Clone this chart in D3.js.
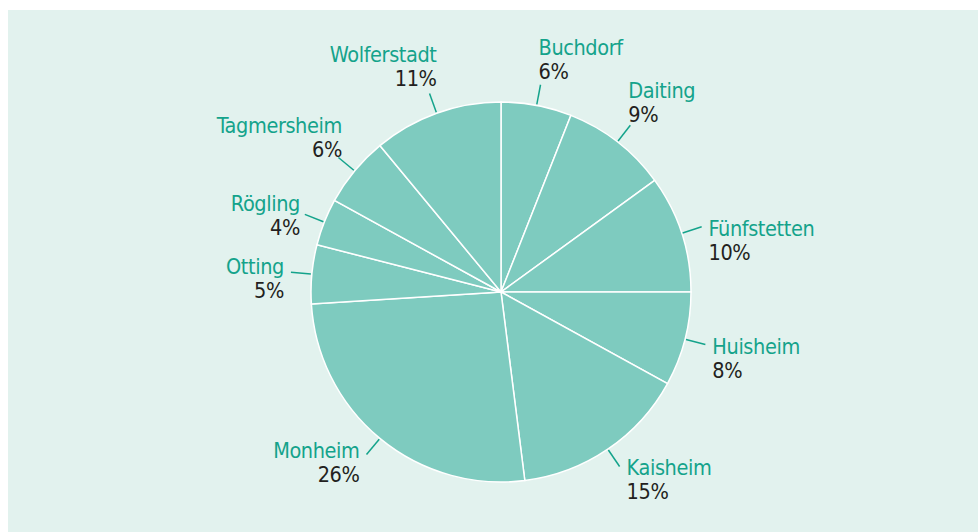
<!DOCTYPE html>
<html lang="de">
<head>
    <meta charset="UTF-8">
    <title>Anteile</title>
    <style>
        body,
        html {
            margin: 0;
            padding: 0;
            background: #fff;
        }
        text {
            font-family: "Liberation Sans Narrow", "DejaVu Sans Condensed", sans-serif;
            font-size: 21.5px;
            letter-spacing: -0.4px;
        }
    </style>
    <script src="https://d3js.org/d3.v7.min.js"></script>
</head>
<body>
<div id="chart"></div>
<script>
    // Gemeinden im Uhrzeigersinn, beginnend oben
    const gemeinden = ['Buchdorf', 'Daiting', 'Fünfstetten', 'Huisheim', 'Kaisheim',
        'Monheim', 'Otting', 'Rögling', 'Tagmersheim', 'Wolferstadt'];
    const anteile = [6, 9, 10, 8, 15, 26, 5, 4, 6, 11];

    const width = 978,
        height = 532,
        cx = 501,
        cy = 292,
        radius = 190;

    const svg = d3.select('#chart')
        .append('svg')
        .attr('width', width)
        .attr('height', height);

    svg.append('rect')
        .attr('x', 8).attr('y', 10)
        .attr('width', width - 8).attr('height', height - 10)
        .attr('fill', '#e2f2ee');

    const data = gemeinden.map((name, i) => ({name: name, value: anteile[i]}));

    const pie = d3.pie().sort(null).value(d => d.value);
    const arcs = pie(data);

    const arc = d3.arc().innerRadius(0).outerRadius(radius);

    const g = svg.append('g').attr('transform', `translate(${cx},${cy})`);

    g.selectAll('path.slice')
        .data(arcs)
        .enter()
        .append('path')
        .attr('class', 'slice')
        .attr('d', arc)
        .attr('fill', '#7ecbbf')
        .attr('stroke', '#fff')
        .attr('stroke-width', 1.5);

    // Hilfslinien und Beschriftung
    const labels = g.selectAll('g.label')
        .data(arcs)
        .enter()
        .append('g')
        .attr('class', 'label');

    function mid(d) {
        return (d.startAngle + d.endAngle) / 2;
    }

    labels.append('line')
        .attr('x1', d => Math.sin(mid(d)) * (radius + 1))
        .attr('y1', d => -Math.cos(mid(d)) * (radius + 1))
        .attr('x2', d => Math.sin(mid(d)) * (radius + 21))
        .attr('y2', d => -Math.cos(mid(d)) * (radius + 21))
        .attr('stroke', '#14a38b')
        .attr('stroke-width', 1.5);

    const txt = labels.append('text')
        .attr('text-anchor', d => Math.sin(mid(d)) >= 0 ? 'start' : 'end')
        .attr('transform', d => {
            const a = mid(d),
                s = Math.sin(a) >= 0 ? 1 : -1,
                t = Math.max(0, Math.min(1, (Math.cos(a) - 0.3) / 0.45));
            const x = Math.sin(a) * (radius + 21) + s * (7 - 9 * t) + (s < 0 ? 5 * t : 0),
                y = -Math.cos(a) * (radius + 21) + 6 + 4 * Math.sin(a) - 36 * t;
            return `translate(${x},${y})`;
        });

    txt.append('tspan')
        .attr('x', 0)
        .attr('fill', '#14a38b')
        .text(d => d.data.name);

    txt.append('tspan')
        .attr('x', 0)
        .attr('dy', 24)
        .attr('fill', '#231f20')
        .text(d => d.data.value + '%');
</script>
</body>
</html>
